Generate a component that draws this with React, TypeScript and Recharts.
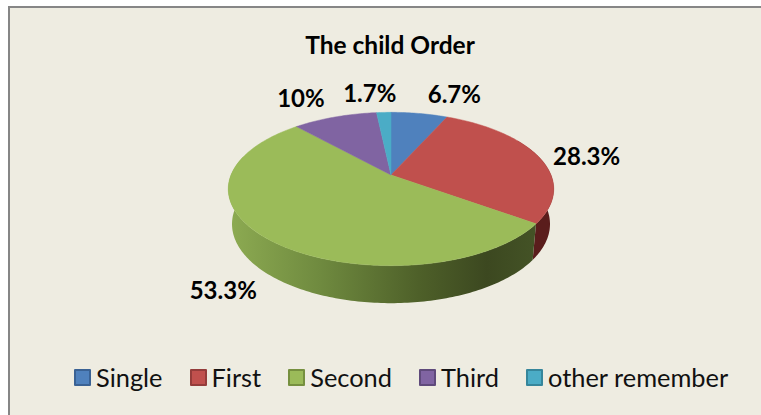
import { PieChart, Pie, Legend } from "recharts";

const categories = ["Single", "First", "Second", "Third", "other remember"];
const shares = [6.7, 28.3, 53.3, 10, 1.7];
const sliceColors = ["#4f81bd", "#c0504d", "#9bbb59", "#8064a2", "#4bacc6"];
const swatchBorders = ["#3a6294", "#943c3a", "#76903f", "#5f4a7b", "#36869b"];
const wallColors = ["none", "#5a1d1c", "url(#greenWall)", "none", "none"];
const labelNudges = [[35, -20], [48, -1], [-44, 51], [-34, -20], [-14, -20]];

const tableData = categories.map((name, i) => ({ name, value: shares[i], fill: sliceColors[i] }));

const FONT = "Lato, 'Open Sans', sans-serif";
const TILT = 0.1825;

// tilted disc: theta is clockwise from 12 o'clock
function project(theta: number, cx: number, cy: number, r: number, lower = false) {
  const u = Math.sin((theta * Math.PI) / 180);
  const v = -Math.cos((theta * Math.PI) / 180);
  const w = 1 - TILT * v;
  const rx = lower ? r * 0.977 : r;
  const ry = lower ? r * 0.478 : r * 0.4631;
  const y0 = lower ? cy + 34.6 : cy;
  return [cx + (rx * u) / w, y0 + (ry * v) / w];
}

function arcPoints(from: number, to: number, cx: number, cy: number, r: number, lower = false) {
  const pts: number[][] = [];
  const steps = Math.max(2, Math.ceil(Math.abs(to - from)));
  for (let i = 0; i <= steps; i++) {
    pts.push(project(from + ((to - from) * i) / steps, cx, cy, r, lower));
  }
  return pts;
}

const toPath = (pts: number[][]) =>
  pts.map((p, i) => `${i ? "L" : "M"}${p[0].toFixed(2)} ${p[1].toFixed(2)}`).join(" ") + " Z";

function TiltedSlice(props: any) {
  const { cx, cy, outerRadius, startAngle, endAngle, fill, index } = props;
  const from = 90 - startAngle;
  const to = 90 - endAngle;
  const wallFrom = Math.max(from, 60);
  const wallTo = Math.min(to, 285);
  const wall = wallColors[index];
  return (
    <g>
      {wall !== "none" && wallTo > wallFrom && (
        <path
          d={toPath([
            ...arcPoints(wallFrom, wallTo, cx, cy, outerRadius),
            ...arcPoints(wallTo, wallFrom, cx, cy, outerRadius, true),
          ])}
          fill={wall}
        />
      )}
      <path
        d={toPath([[cx, cy], ...arcPoints(from, to, cx, cy, outerRadius)])}
        fill={fill}
        stroke={fill}
        strokeWidth={0.5}
      />
    </g>
  );
}

function SliceLabel(props: any) {
  const { cx, cy, outerRadius, midAngle, value, index } = props;
  const [x, y] = project(90 - midAngle, cx, cy, outerRadius);
  return (
    <text
      x={x + labelNudges[index][0]}
      y={y + labelNudges[index][1]}
      textAnchor="middle"
      dominantBaseline="central"
      fontFamily={FONT}
      fontWeight={700}
      fontSize={24}
      fill="#000"
    >
      {value}%
    </text>
  );
}

function ChartLegend(props: any) {
  return (
    <div style={{ display: "flex", gap: 27, fontFamily: FONT, fontSize: 25.4, color: "#111", lineHeight: "28px" }}>
      {(props.payload || []).map((item: any, i: number) => (
        <div key={item.value} style={{ display: "flex", alignItems: "center", gap: 5 }}>
          <span
            style={{
              width: 13,
              height: 13,
              background: item.color,
              border: `2px solid ${swatchBorders[i]}`,
              borderRadius: 1,
            }}
          />
          <span>{item.value}</span>
        </div>
      ))}
    </div>
  );
}

export default function App() {
  return (
    <div style={{ position: "fixed", left: 0, top: 0, width: 761, height: 415, overflow: "hidden", background: "#fff" }}>
      <div
        style={{
          position: "absolute",
          left: 8,
          top: 6,
          width: 770,
          height: 430,
          background: "#eeece1",
          borderLeft: "2px solid #868686",
          borderTop: "2px solid #868686",
        }}
      />
      <div style={{ position: "absolute", left: 0, top: 0 }}>
        <PieChart width={761} height={415} margin={{ top: 0, right: 0, bottom: 0, left: 0 }}>
          <defs>
            <linearGradient id="greenWall" gradientUnits="userSpaceOnUse" x1={228} y1={0} x2={536} y2={0}>
              <stop offset="0%" stopColor="#8dab52" />
              <stop offset="30%" stopColor="#6f8a3f" />
              <stop offset="62%" stopColor="#4e6029" />
              <stop offset="84%" stopColor="#3c4820" />
              <stop offset="100%" stopColor="#445326" />
            </linearGradient>
          </defs>
          <text
            x={390}
            y={44}
            textAnchor="middle"
            dominantBaseline="central"
            fontFamily={FONT}
            fontWeight={700}
            fontSize={24.5}
            fill="#000"
          >
            The child Order
          </text>
          <Pie
            data={tableData}
            dataKey="value"
            nameKey="name"
            cx={391}
            cy={175}
            outerRadius={160}
            startAngle={90}
            endAngle={-270}
            stroke="none"
            shape={TiltedSlice}
            label={SliceLabel}
            labelLine={false}
            isAnimationActive={false}
          />
          <Legend
            layout="horizontal"
            align="left"
            verticalAlign="bottom"
            itemSorter={null}
            content={ChartLegend}
            wrapperStyle={{ left: 74, top: 363, bottom: "auto", width: 680 }}
          />
        </PieChart>
      </div>
    </div>
  );
}
